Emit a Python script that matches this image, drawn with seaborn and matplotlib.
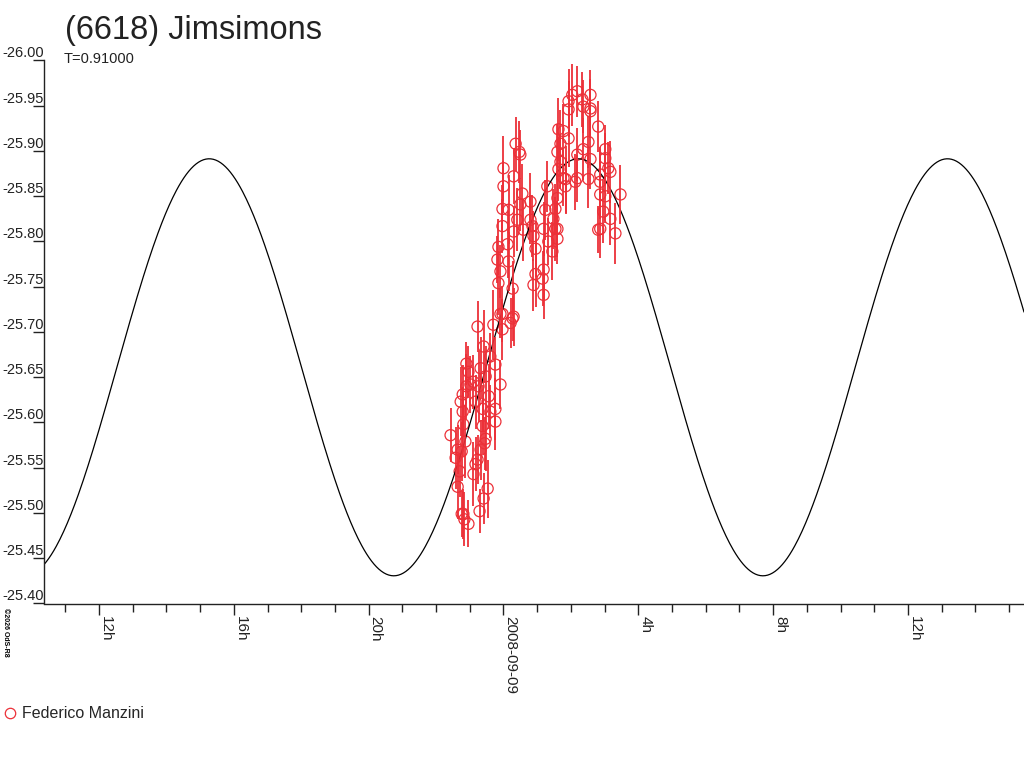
import numpy as np
import matplotlib
matplotlib.use("Agg")
import matplotlib.pyplot as plt
from matplotlib.ticker import MultipleLocator, FuncFormatter
from matplotlib.lines import Line2D
import seaborn as sns

# DATA (hours from 2008-09-09 00:00 UT, reduced magnitude, error)
hours = [
    # first part of the session
    -1.57, -1.42, -1.30, -1.36, -1.24, -1.16, -1.04, -1.21, -1.27, -1.21,
    -1.19, -1.10, -0.98, -1.04, -1.13, -1.24, -1.36, -1.19, -1.10,
    -0.89, -0.77, -0.68, -0.59, -0.62, -0.62, -0.53, -0.56, -0.68, -0.77,
    -0.83, -0.89, -0.47, -0.59, -0.71, -0.30, -0.24, -0.09, -0.24, -0.24,
    -0.39, -0.44, -0.53, -0.39, -0.83, -0.74, -0.03, 0.21, 0.27, -0.03,
    # middle
    0.36, 0.47, 0.50, 0.00, 0.30, 0.00, 0.56, -0.03, 0.15, 0.50,
    0.80, 0.41, 0.80, -0.03, 0.59, 0.30, -0.15, 0.12, -0.18, 0.15,
    -0.09, -0.15, 0.27, -0.09, 0.30, 0.86, 0.89, 0.95, 0.95, 0.89,
    1.19, 1.24, 1.60, 1.54, 1.60, 1.45, 1.33, 1.19, 1.16, 1.84,
    2.13, 2.19,
    # end of the session
    2.19, 2.04, 2.34, 2.58, 1.93, 1.93, 2.37, 2.58, 2.58, 1.63,
    1.78, 2.81, 1.93, 1.69, 2.52, 1.60, 2.37, 3.02, 1.69, 2.58,
    3.02, 1.63, 1.78, 2.19, 2.52, 3.11, 3.17, 2.87, 2.87, 1.30,
    1.84, 2.87, 3.47, 3.02, 2.96, 3.17, 2.87, 2.81, 3.32, 1.60,
    1.54, 1.48, 1.19,
]

mags = [
    -25.586, -25.561, -25.546, -25.529, -25.499, -25.493, -25.488, -25.631, -25.623, -25.612,
    -25.598, -25.665, -25.642, -25.656, -25.579, -25.568, -25.570, -25.499, -25.640,
    -25.645, -25.706, -25.660, -25.684, -25.615, -25.596, -25.582, -25.577, -25.570, -25.559,
    -25.554, -25.543, -25.527, -25.516, -25.502, -25.708, -25.664, -25.642, -25.615, -25.601,
    -25.612, -25.629, -25.651, -25.673, -25.623, -25.640, -25.720, -25.710, -25.715, -25.703,
    -25.908, -25.899, -25.896, -25.881, -25.872, -25.861, -25.853, -25.836, -25.835, -25.841,
    -25.844, -25.824, -25.824, -25.817, -25.813, -25.811, -25.794, -25.797, -25.780, -25.778,
    -25.767, -25.754, -25.748, -25.720, -25.717, -25.817, -25.806, -25.792, -25.764, -25.752,
    -25.741, -25.835, -25.848, -25.814, -25.803, -25.789, -25.800, -25.769, -25.759, -25.869,
    -25.866, -25.896,
    -25.966, -25.962, -25.957, -25.962, -25.955, -25.946, -25.949, -25.947, -25.944, -25.924,
    -25.922, -25.927, -25.914, -25.908, -25.910, -25.899, -25.902, -25.902, -25.888, -25.891,
    -25.892, -25.880, -25.870, -25.870, -25.869, -25.881, -25.877, -25.874, -25.866, -25.861,
    -25.861, -25.852, -25.852, -25.850, -25.833, -25.825, -25.814, -25.813, -25.809, -25.814,
    -25.836, -25.825, -25.814,
]

errs = [
    0.030, 0.034, 0.028, 0.036, 0.025, 0.030, 0.026, 0.032, 0.038, 0.027,
    0.035, 0.024, 0.031, 0.029, 0.040, 0.033, 0.027, 0.028, 0.036,
    0.030, 0.028, 0.034, 0.040, 0.026, 0.031, 0.036, 0.029, 0.033, 0.027,
    0.030, 0.035, 0.032, 0.028, 0.024, 0.038, 0.030, 0.027, 0.034, 0.031,
    0.029, 0.036, 0.033, 0.026, 0.030, 0.039, 0.031, 0.028, 0.025, 0.034,
    0.030, 0.034, 0.027, 0.036, 0.031, 0.028, 0.033, 0.026, 0.038, 0.029,
    0.032, 0.035, 0.027, 0.030, 0.034, 0.028, 0.031, 0.037, 0.026, 0.033,
    0.029, 0.035, 0.030, 0.027, 0.032, 0.034, 0.028, 0.031, 0.036, 0.029,
    0.027, 0.033, 0.030, 0.035, 0.028, 0.032, 0.026, 0.034, 0.030, 0.037,
    0.031, 0.029,
    0.028, 0.034, 0.030, 0.027, 0.036, 0.031, 0.029, 0.033, 0.026, 0.035,
    0.030, 0.028, 0.032, 0.037, 0.029, 0.031, 0.034, 0.027, 0.030, 0.033,
    0.028, 0.035, 0.031, 0.026, 0.032, 0.029, 0.034, 0.030, 0.036, 0.028,
    0.031, 0.027, 0.033, 0.030, 0.035, 0.029, 0.032, 0.026, 0.034, 0.031,
    0.028, 0.033, 0.030,
]

# sinusoidal fit of the lightcurve
fit_mean = -25.661
fit_amp = 0.2304
fit_period_h = 10.95
fit_peak_h = 2.22

x_range = (-13.63, 15.44)
y_range = (-25.40, -26.00)

title = "(6618) Jimsimons"
subtitle = "T=0.91000"
observer = "Federico Manzini"
RED = "#ec3038"

sns.set_theme(style="white")
plt.rcParams["font.family"] = ["Liberation Sans", "DejaVu Sans"]

fig = plt.figure(figsize=(10.24, 7.68), dpi=100)
ax = fig.add_axes([44 / 1024, 1 - 603.5 / 768, 980 / 1024, 543 / 768])

t_fit = np.linspace(x_range[0], x_range[1], 800)
m_fit = fit_mean - fit_amp * np.cos(2 * np.pi * (t_fit - fit_peak_h) / fit_period_h)
sns.lineplot(x=t_fit, y=m_fit, color="black", linewidth=0.9, sort=False, ax=ax)

h = np.array(hours)
m = np.array(mags)
e = np.array(errs)
ax.vlines(h, m - e, m + e, color=RED, linewidth=1.3)
sns.scatterplot(x=h, y=m, s=64, marker="o", facecolors="none",
                edgecolor=RED, linewidth=0.9, ax=ax)

ax.set_xlim(*x_range)
ax.set_ylim(*y_range)

for side in ["top", "right"]:
    ax.spines[side].set_visible(False)
for side in ["left", "bottom"]:
    ax.spines[side].set_color("#222222")
    ax.spines[side].set_linewidth(1.0)

# y axis: labels sitting on the tick marks
ax.yaxis.set_major_locator(MultipleLocator(0.05))
ax.yaxis.set_major_formatter(FuncFormatter(lambda v, p: f"{v:.2f}"))
ax.tick_params(axis="y", direction="out", length=8, width=1.0, pad=-8,
               labelsize=10.5, left=True, colors="#222222")
for lbl in ax.get_yticklabels():
    lbl.set_va("bottom")


def hour_label(v, pos):
    hh = int(round(v)) % 24
    if hh == 0:
        return "2008-09-09"
    return f"{hh}h"


ax.xaxis.set_major_locator(MultipleLocator(4))
ax.xaxis.set_minor_locator(MultipleLocator(1))
ax.xaxis.set_major_formatter(FuncFormatter(hour_label))
ax.tick_params(axis="x", which="major", direction="out", length=8, width=1.0,
               pad=1, labelsize=11, bottom=True, colors="#222222", labelrotation=-90)
ax.tick_params(axis="x", which="minor", direction="out", length=6, width=1.0,
               bottom=True, color="#222222")
for lbl in ax.get_xticklabels():
    lbl.set_ha("left")
    lbl.set_va("top")

ax.set_xlabel("")
ax.set_ylabel("")

fig.text(65 / 1024, 1 - 39 / 768, title, fontsize=23.5, color="#222222", va="baseline")
fig.text(64 / 1024, 1 - 63 / 768, subtitle, fontsize=10.5, color="#222222", va="baseline")
fig.text(2 / 1024, 1 - 608 / 768, "©2026 OdS-R8", fontsize=5, fontweight="bold",
         rotation=-90, ha="left", va="top", color="black")

handle = Line2D([], [], marker="o", linestyle="none", markerfacecolor="none",
                markeredgecolor=RED, markersize=7.5, markeredgewidth=0.9)
fig.legend([handle], [observer], loc="center left", bbox_to_anchor=(0.0, 1 - 714 / 768),
           frameon=False, fontsize=11.5, handlelength=0.8, handletextpad=0.4,
           borderaxespad=0.0, borderpad=0.2)

fig.savefig("out.png", dpi=100)
